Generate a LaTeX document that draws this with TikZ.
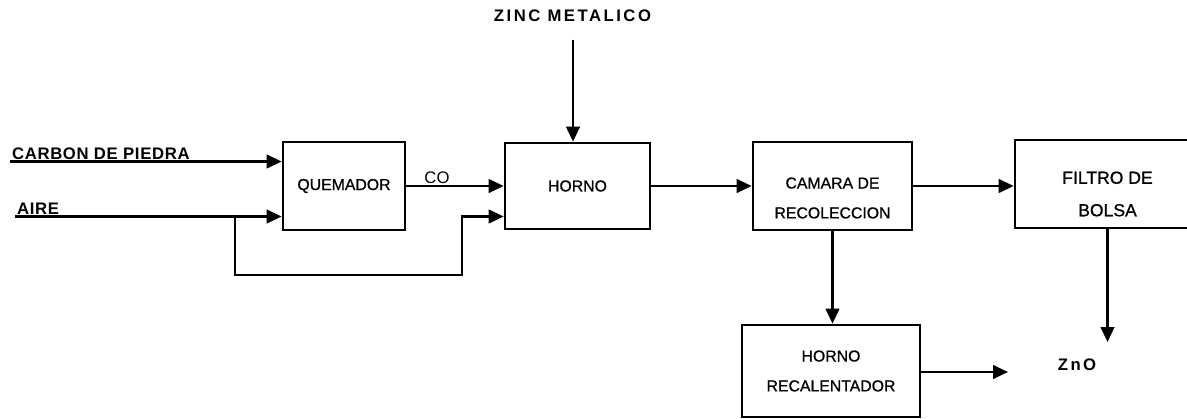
\documentclass[tikz,border=0pt]{standalone}
\usepackage{fontspec}
\setmainfont{Liberation Sans}
\usepackage{tikz}
\usetikzlibrary{calc,arrows.meta}

\tikzset{
  box/.style={draw, line width=1.5pt, align=center, font=\fontsize{9}{17}\selectfont\addfontfeature{FakeBold=0.8}},
  boxtext/.style={align=center, font=\fontsize{9}{17}\selectfont\addfontfeature{FakeBold=0.8}},
  flow/.style={line width=1.5pt, -{Triangle[length=0.3cm, width=0.27cm]}},
  feed/.style={inner sep=1pt, font=\bfseries\fontsize{9.5}{11}\selectfont\addfontfeature{LetterSpace=4}},
  tag/.style={font=\bfseries\fontsize{9.5}{11}\selectfont\addfontfeature{LetterSpace=15}}
}

\begin{document}
\begin{tikzpicture}
  \useasboundingbox (0,0) rectangle (23.74,-8.38);
  \node[box, minimum width=2.44cm, minimum height=1.76cm] (quem) at (6.88,-3.72) {QUEMADOR};
  \node[box, minimum width=2.9cm, minimum height=1.72cm] (horno) at (11.55,-3.72) {HORNO};
  \node[box, minimum width=3.18cm, minimum height=1.76cm] (camara) at (16.65,-3.72) {};
  \node[box, minimum width=3.7cm, minimum height=1.76cm] (filtro) at (22.15,-3.68) {};
  \node[box, minimum width=3.56cm, minimum height=1.84cm] (recal) at (16.62,-7.42) {HORNO\\RECALENTADOR};
  \node[boxtext] (camaratxt) at ([yshift=-0.24cm]camara) {CAMARA DE\\RECOLECCION};
  \node[boxtext, font=\fontsize{10}{18.5}\selectfont\addfontfeature{FakeBold=0.8}] (filtrotxt) at ([yshift=-0.2cm]filtro) {FILTRO DE\\BOLSA};

  \node[feed, above right] (carbon) at (0.2,-3.23) {CARBON DE PIEDRA};
  \node[feed, above right] (aire) at (0.3,-4.33) {AIRE};
  \node[tag] (zinc) at (11.45,-0.32) {ZINC METALICO};
  \node[tag] (zno) at (21.54,-7.3) {ZnO};
  \node[feed, above, font=\fontsize{9.5}{11}\selectfont] (co) at (8.74,-3.72) {CO};

  \coordinate (zin) at (11.46,-0.8);
  \coordinate (split) at (4.7,-4.33);
  \coordinate (out) at (20.16,-7.44);
  \coordinate (polvo) at (22.15,-6.84);

  \draw[flow] (carbon.south west) -- (carbon.south west -| quem.west);
  \draw[flow] (aire.south west) -- (aire.south west -| quem.west);
  \draw[flow] (split) |- (9.24,-5.5) |- (split -| horno.west);
  \draw[flow] (quem.east) -- (quem.east -| horno.west);
  \draw[flow] (zin) -- (zin |- horno.north);
  \draw[flow] (horno.east) -- (camara.west);
  \draw[flow] (camara.east) -- (camara.east -| filtro.west);
  \draw[flow] (camara.south) -- (camara.south |- recal.north);
  \draw[flow] (recal.east |- out) -- (out);
  \draw[flow] (filtro.south) -- (polvo);
\end{tikzpicture}
\end{document}
